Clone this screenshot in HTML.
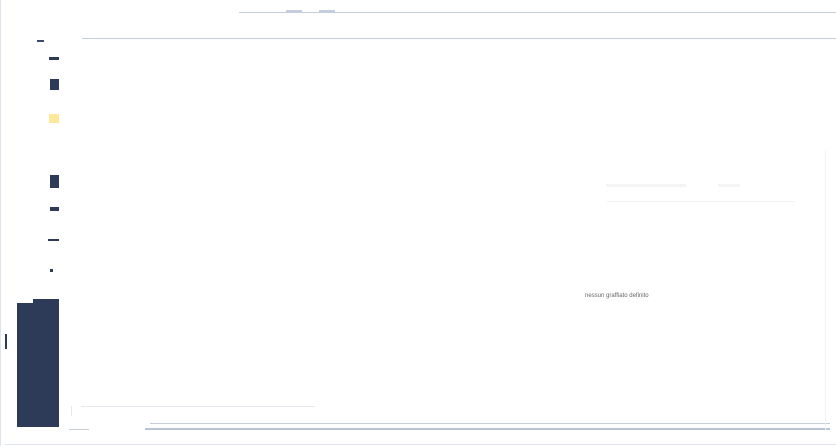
<!DOCTYPE html>
<html><head><style>
body{margin:0;width:836px;height:446px;background:#fff;position:relative;overflow:hidden;font-family:"Liberation Sans",sans-serif}
.a{position:absolute}
</style></head><body>
<div class="a" style="left:239px;top:12px;width:597px;height:1px;background:#c3cddd"></div>
<div class="a" style="left:286px;top:10px;width:16px;height:2px;background:#c3cddd"></div>
<div class="a" style="left:319px;top:10px;width:16px;height:2px;background:#c3cddd"></div>
<div class="a" style="left:82px;top:38px;width:754px;height:1px;background:#c3cddd"></div>
<div class="a" style="left:0;top:38px;width:1px;height:70px;background:#c8d2e6"></div>
<div class="a" style="left:0;top:0;width:1px;height:446px;background:#dde3ef"></div>
<div class="a" style="left:37px;top:40px;width:7px;height:2px;background:#3a4a6a"></div>
<div class="a" style="left:49px;top:57px;width:10px;height:3px;background:#2d3b59"></div>
<div class="a" style="left:50px;top:79px;width:9px;height:11px;background:#2d3b59"></div>
<div class="a" style="left:49px;top:114px;width:10px;height:9px;background:#fde79a"></div>
<div class="a" style="left:50px;top:175px;width:9px;height:13px;background:#2d3b59"></div>
<div class="a" style="left:50px;top:207px;width:9px;height:4px;background:#2d3b59"></div>
<div class="a" style="left:48px;top:239px;width:11px;height:2px;background:#2d3b59"></div>
<div class="a" style="left:50px;top:269px;width:3px;height:3px;background:#2d3b59"></div>
<div class="a" style="left:17px;top:303px;width:42px;height:124px;background:#2d3b59"></div>
<div class="a" style="left:33px;top:299px;width:26px;height:4px;background:#2d3b59"></div>
<div class="a" style="left:5px;top:334px;width:2px;height:15px;background:#2d3b59"></div>
<div class="a" style="left:81px;top:406px;width:234px;height:1px;background:#e6e8ee"></div>
<div class="a" style="left:71px;top:406px;width:1px;height:10px;background:#e6e8ee"></div>
<div class="a" style="left:150px;top:423px;width:680px;height:1px;background:#c4ccd8"></div>
<div class="a" style="left:145px;top:428px;width:685px;height:2px;background:#b8c4d6"></div>
<div class="a" style="left:69px;top:429px;width:20px;height:1px;background:#c4ccd8"></div>
<div class="a" style="left:5px;top:444px;width:831px;height:1px;background:#dfe4ec"></div>
<div class="a" style="left:606px;top:184px;width:80px;height:3px;background:#f3f4f6"></div>
<div class="a" style="left:718px;top:184px;width:22px;height:3px;background:#f3f4f6"></div>
<div class="a" style="left:607px;top:201px;width:188px;height:1px;background:#f0f1f4"></div>
<div class="a" style="left:825px;top:150px;width:1px;height:280px;background:#f2f3f6"></div>
<div class="a" style="left:585px;top:293px;font-size:6px;color:#666">nessun graffiato definito</div>
</body></html>
